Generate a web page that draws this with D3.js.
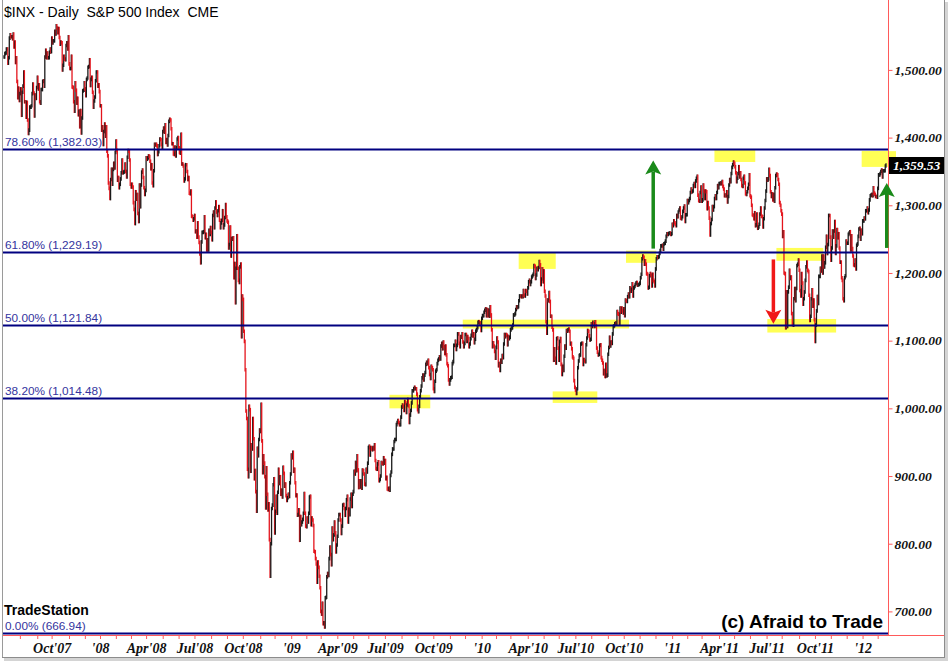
<!DOCTYPE html>
<html><head><meta charset="utf-8">
<script src="https://cdn.jsdelivr.net/npm/d3@7"></script>
<style>html,body{margin:0;padding:0;background:#fff;} svg{display:block}</style>
</head><body><svg id="c" width="950" height="664"></svg>
<script>
// ---------- DATA ----------
const startMonth = "2007-07";
// daily closes, one array per month
const dailyCloses = [
 [1519,1524,1525,1531,1531,1510,1518,1547,1552,1549,1549,1546,1553,1534,1541,1511,1518,1483,1459,1473,1455],
 [1465,1472,1433,1467,1476,1497,1453,1453,1430,1452,1426,1406,1411,1445,1445,1447,1465,1479,1466,1432,1463,1458,1474],
 [1489,1472,1478,1453,1451,1471,1471,1483,1484,1476,1519,1529,1518,1525,1518,1518,1526,1531,1527],
 [1547,1540,1543,1543,1557,1553,1565,1562,1555,1561,1548,1538,1541,1540,1500,1507,1520,1516,1515,1536,1540,1531,1549],
 [1509,1502,1502,1520,1475,1474,1453,1439,1481,1470,1451,1458,1434,1439,1416,1440,1407,1429,1469,1470,1481],
 [1472,1462,1486,1488,1504,1505,1515,1477,1486,1489,1467,1445,1454,1460,1484,1497,1497,1476,1478,1468],
 [1447,1447,1411,1416,1390,1409,1420,1402,1416,1380,1373,1333,1325,1310,1338,1353,1331,1353,1362,1355,1378],
 [1395,1381,1337,1341,1326,1331,1339,1348,1367,1348,1349,1350,1361,1350,1342,1371,1381,1380,1367,1331],
 [1327,1331,1327,1304,1294,1273,1320,1309,1316,1288,1276,1330,1298,1330,1349,1352,1341,1326,1316,1322],
 [1370,1368,1370,1373,1372,1365,1354,1360,1333,1329,1351,1390,1389,1390,1388,1375,1379,1388,1398,1397,1390,1386],
 [1409,1414,1408,1419,1393,1397,1389,1403,1424,1427,1426,1413,1391,1391,1376,1375,1386,1373,1385,1398,1400],
 [1385,1378,1377,1405,1361,1361,1358,1336,1339,1360,1360,1350,1338,1341,1318,1317,1321,1284,1283,1278,1280],
 [1285,1261,1262,1253,1274,1253,1245,1228,1215,1246,1260,1260,1261,1283,1252,1257,1234,1249,1234,1263,1257,1267],
 [1260,1249,1285,1290,1267,1296,1305,1290,1285,1292,1298,1278,1267,1274,1278,1292,1267,1271,1282,1301,1283],
 [1277,1275,1237,1242,1268,1225,1251,1250,1252,1193,1214,1156,1207,1255,1207,1189,1186,1209,1213,1106,1166],
 [1161,1114,1099,1057,996,985,910,899,1003,998,907,946,940,985,955,896,908,877,848,941,930,954,968],
 [966,1006,952,905,930,919,899,853,912,873,850,859,806,752,800,852,857,887,896],
 [816,848,870,845,876,910,889,899,873,879,869,913,904,885,888,871,864,868,873,870,890,903],
 [931,927,935,907,910,890,871,872,842,843,850,805,840,828,832,836,845,874,845,826],
 [825,838,832,845,869,870,828,838,835,827,789,788,778,770,743,773,765,752,735],
 [700,696,712,682,683,677,720,721,751,756,753,778,795,784,769,823,806,813,832,816,788,798],
 [811,835,843,843,835,815,826,857,858,852,842,852,865,870,832,851,843,866,873,855,873],
 [877,907,903,920,908,930,909,883,893,884,893,882,909,908,903,888,887,910,906,919],
 [942,944,931,942,940,939,942,940,946,923,911,910,918,921,893,895,900,920,919,918,927,919],
 [923,896,898,881,880,882,879,901,906,932,940,940,951,954,954,976,979,982,979,976,976,987],
 [1002,1005,1003,997,1010,1008,994,1005,1013,1004,979,990,997,1008,1026,1026,1029,1031,1029,1029,1021],
 [998,995,1003,1017,1026,1033,1045,1049,1042,1049,1053,1065,1068,1066,1071,1060,1050,1044,1062,1060,1057],
 [1029,1025,1040,1055,1057,1066,1071,1073,1076,1073,1092,1096,1088,1098,1091,1081,1092,1079,1066,1063,1042,1036],
 [1042,1045,1046,1066,1069,1093,1093,1099,1087,1093,1110,1110,1096,1091,1106,1105,1110,1098,1091,1096],
 [1109,1109,1099,1106,1103,1091,1095,1103,1108,1114,1107,1110,1097,1102,1114,1116,1119,1127,1128,1126,1126,1115],
 [1133,1137,1137,1142,1145,1147,1137,1146,1137,1145,1136,1150,1138,1116,1091,1097,1092,1084,1074],
 [1090,1104,1098,1063,1066,1056,1071,1068,1078,1075,1095,1109,1106,1109,1108,1094,1106,1103,1105],
 [1116,1118,1119,1123,1138,1138,1140,1146,1150,1149,1150,1159,1166,1166,1165,1166,1165,1174,1167,1166,1174,1173,1169],
 [1178,1187,1189,1183,1187,1194,1196,1198,1211,1210,1192,1197,1207,1205,1208,1217,1212,1183,1191,1206,1187],
 [1203,1173,1166,1128,1111,1160,1159,1171,1158,1136,1136,1120,1116,1071,1088,1074,1067,1103,1104,1089],
 [1071,1099,1103,1065,1050,1062,1056,1077,1092,1089,1115,1114,1116,1117,1114,1095,1096,1088,1076,1074,1041,1031],
 [1027,1022,1029,1060,1070,1078,1079,1095,1096,1096,1065,1072,1070,1069,1094,1104,1115,1114,1107,1101,1102],
 [1125,1121,1127,1125,1121,1128,1122,1089,1083,1079,1080,1093,1094,1075,1071,1067,1051,1056,1047,1065,1048,1049],
 [1080,1090,1105,1092,1098,1096,1110,1121,1122,1125,1126,1125,1143,1140,1139,1125,1148,1142,1148,1144,1141],
 [1147,1137,1160,1159,1158,1165,1169,1165,1178,1173,1176,1184,1166,1178,1180,1183,1185,1186,1182,1183,1183],
 [1185,1193,1198,1221,1225,1223,1213,1218,1213,1199,1198,1178,1179,1196,1199,1197,1181,1198,1189,1187,1181],
 [1206,1221,1224,1223,1224,1229,1233,1240,1240,1241,1235,1243,1244,1247,1254,1258,1257,1258,1259,1259,1257,1258],
 [1272,1270,1277,1274,1272,1270,1285,1283,1290,1293,1296,1281,1280,1283,1291,1296,1299,1276,1286,1286],
 [1307,1304,1307,1310,1319,1324,1320,1321,1329,1332,1328,1336,1340,1343,1315,1307,1306,1319,1327],
 [1306,1308,1330,1321,1310,1321,1320,1295,1304,1296,1281,1256,1273,1279,1298,1293,1298,1310,1314,1310,1319,1329,1326],
 [1332,1332,1333,1332,1335,1328,1324,1314,1315,1314,1320,1305,1313,1330,1338,1335,1347,1356,1360,1364],
 [1362,1357,1348,1335,1340,1347,1357,1342,1348,1338,1329,1328,1340,1343,1333,1317,1316,1320,1325,1331,1345],
 [1314,1312,1300,1286,1285,1280,1289,1270,1271,1287,1266,1268,1272,1287,1296,1284,1283,1268,1280,1296,1307,1321],
 [1339,1337,1339,1353,1344,1320,1313,1317,1308,1316,1306,1326,1344,1346,1345,1338,1331,1304,1300,1292],
 [1287,1254,1261,1200,1199,1119,1172,1121,1172,1179,1204,1192,1194,1140,1124,1123,1162,1177,1159,1177,1211,1213,1219],
 [1204,1174,1166,1199,1185,1154,1162,1172,1189,1209,1216,1204,1202,1167,1130,1136,1162,1175,1151,1160,1131],
 [1099,1123,1144,1165,1155,1195,1195,1207,1203,1225,1200,1225,1209,1215,1238,1254,1229,1242,1285,1285,1253],
 [1219,1237,1262,1253,1262,1276,1229,1240,1264,1252,1258,1237,1216,1216,1193,1189,1162,1159,1193,1196,1247],
 [1244,1244,1257,1259,1261,1234,1255,1236,1225,1212,1211,1219,1206,1241,1243,1254,1265,1266,1250,1263,1258],
 [1277,1277,1281,1280,1292,1292,1296,1289,1293,1308,1314,1315,1316,1314,1326,1318,1316,1313,1313,1312],
 [1325,1345,1345,1347,1350,1352,1342,1351,1351,1351,1358,1359.53]
];
const lastPrice = 1359.53;
const xLabelMonths = ["2007-10","2008-01","2008-04","2008-07","2008-10","2009-01","2009-04","2009-07","2009-10","2010-01","2010-04","2010-07","2010-10","2011-01","2011-04","2011-07","2011-10","2012-01"];
const xLabels = ["Oct'07","'08","Apr'08","Jul'08","Oct'08","'09","Apr'09","Jul'09","Oct'09","'10","Apr'10","Jul'10","Oct'10","'11","Apr'11","Jul'11","Oct'11","'12"];
const yTicks = [700,800,900,1000,1100,1200,1300,1400,1500];
const fibPcts = [78.60, 61.80, 50.00, 38.20, 0.00];
const fibValues = [1382.03, 1229.19, 1121.84, 1014.48, 666.94];
// highlight boxes: [startBar, endBar, lowValue, highValue]
const boxStart = [510, 607, 681, 726, 823, 940, 1022, 1010, 1135];
const boxEnd   = [564, 827, 730, 785, 863, 994, 1084, 1101, 1179];
const boxLow   = [1000, 1118, 1206, 1008, 1215, 1364, 1218, 1112, 1357];
const boxHigh  = [1020, 1131, 1230, 1025, 1233, 1383, 1237, 1132, 1380];
// arrows: bar index, start value, tip value
const arrowBar  = [859, 1168, 1018];
const arrowFrom = [1236, 1237, 1220];
const arrowTo   = [1366, 1333, 1125];
const arrowKind = ["up", "up", "down"];

// ---------- LAYOUT ----------
const W = 950, H = 664;
const pL = 3, pR = 888, pT = 0, pB = 634;
const svg = d3.select("#c");
svg.append("rect").attr("width", W).attr("height", H).attr("fill", "#fff");

const bars = [], monthStart = {};
const m0 = d3.timeParse("%Y-%m")(startMonth);
const fmtM = d3.timeFormat("%Y-%m");
dailyCloses.forEach((arr, k) => {
  monthStart[fmtM(d3.timeMonth.offset(m0, k))] = bars.length;
  arr.forEach(v => bars.push(v));
});
const N = bars.length;
const x = d3.scaleLinear().domain([0, N - 1]).range([4, 886]);
const y = d3.scaleLinear().domain([666.6, 1603.3]).range([pB, pT]);

svg.append("clipPath").attr("id", "clip").append("rect")
  .attr("x", pL).attr("y", pT).attr("width", pR - pL).attr("height", pB - pT);

// frame
svg.append("line").attr("x1", 2.5).attr("x2", 2.5).attr("y1", 0).attr("y2", 657).attr("stroke", "#9a9a9a");
svg.append("line").attr("x1", 944.5).attr("x2", 944.5).attr("y1", 0).attr("y2", 657.5).attr("stroke", "#8c8c8c");
svg.append("rect").attr("x", 945).attr("y", 2).attr("width", 3).attr("height", 659).attr("fill", "#d4d4d4");
svg.append("line").attr("x1", 2).attr("x2", 945).attr("y1", 657.5).attr("y2", 657.5).attr("stroke", "#8c8c8c");
svg.append("rect").attr("x", 4).attr("y", 658).attr("width", 944).attr("height", 3).attr("fill", "#d4d4d4");

// highlight boxes (under bars)
const gBox = svg.append("g").attr("clip-path", "url(#clip)");
boxStart.forEach((s, i) => {
  gBox.append("rect")
    .attr("x", x(s)).attr("width", x(boxEnd[i]) - x(s))
    .attr("y", y(boxHigh[i])).attr("height", y(boxLow[i]) - y(boxHigh[i]))
    .attr("fill", "#ffff55");
});
{
  const i = boxStart.length - 1;
  svg.append("rect").attr("x", x(boxStart[i])).attr("width", 896 - x(boxStart[i]))
    .attr("y", y(boxHigh[i])).attr("height", y(boxLow[i]) - y(boxHigh[i])).attr("fill", "#ffff55");
}

// bars (previous close -> close, drawn a little longer to mimic the daily range)
const ext = 1.8;
const gBars = svg.append("g").attr("clip-path", "url(#clip)");
gBars.selectAll("line").data(bars).join("line")
  .attr("x1", (d, i) => x(i)).attr("x2", (d, i) => x(i))
  .attr("y1", (d, i) => Math.min(y(i ? bars[i - 1] : d), y(d)) - ext)
  .attr("y2", (d, i) => Math.max(y(i ? bars[i - 1] : d), y(d)) + ext)
  .attr("stroke", (d, i) => (i && d < bars[i - 1]) ? "#e4141c" : "#1a1a1a")
  .attr("stroke-width", 1.3);

// fib lines & labels
fibValues.forEach((v, i) => {
  const yy = Math.round(y(v)) - 0.5;
  svg.append("line").attr("x1", pL).attr("x2", pR).attr("y1", yy).attr("y2", yy)
    .attr("stroke", "#000080").attr("stroke-width", 2);
  svg.append("text").attr("x", 5).attr("y", yy - 4)
    .attr("font-family", "Liberation Sans, Arial, sans-serif").attr("font-size", 11.8)
    .attr("fill", "#34349e")
    .text(`${fibPcts[i].toFixed(2)}% (${d3.format(",.2f")(v)})`);
});

// axes lines
svg.append("line").attr("x1", pR + 0.5).attr("x2", pR + 0.5).attr("y1", 0).attr("y2", pB + 1)
  .attr("stroke", "#ff5a5a");
svg.append("line").attr("x1", pL).attr("x2", 944).attr("y1", pB + 1.5).attr("y2", pB + 1.5)
  .attr("stroke", "#ff5a5a");

// right axis
const yAxis = d3.axisRight(y).tickValues(yTicks).tickFormat(d3.format(",.2f")).tickSize(4).tickPadding(2);
const gy = svg.append("g").attr("transform", `translate(${pR + 0.5},0)`).call(yAxis);
gy.select(".domain").remove();
gy.selectAll(".tick line").attr("stroke", "#ff5a5a");
gy.selectAll(".tick text").attr("font-family", "Liberation Serif, Times New Roman, serif")
  .attr("font-style", "italic").attr("font-weight", "bold").attr("font-size", 13.5).attr("fill", "#111");

// bottom axis: monthly ticks, quarterly labels
const monthIdx = Object.keys(monthStart).slice(1).map(k => monthStart[k]);
const labelAt = {};
xLabelMonths.forEach((m, i) => labelAt[monthStart[m]] = xLabels[i]);
const xAxis = d3.axisBottom(x).tickValues(monthIdx).tickFormat(d => labelAt[d] || "").tickSize(4).tickPadding(4);
const gx = svg.append("g").attr("transform", `translate(0,${pB + 1})`).call(xAxis);
gx.select(".domain").remove();
gx.selectAll(".tick line").attr("stroke", "#ff5a5a");
gx.selectAll(".tick text").attr("font-family", "Liberation Serif, Times New Roman, serif")
  .attr("font-style", "italic").attr("font-weight", "bold").attr("font-size", 14).attr("fill", "#111");

// last price box
const yl = y(lastPrice);
svg.append("rect").attr("x", pR + 1).attr("y", yl - 8).attr("width", 55).attr("height", 17).attr("fill", "#000");
svg.append("text").attr("x", 893).attr("y", yl + 5)
  .attr("font-family", "Liberation Serif, Times New Roman, serif").attr("font-style", "italic")
  .attr("font-weight", "bold").attr("font-size", 13.5).attr("fill", "#fff")
  .text(d3.format(",.2f")(lastPrice));

// arrows
arrowBar.forEach((b, i) => {
  const up = arrowKind[i] === "up";
  const col = up ? "#1a8a1a" : "#f01818";
  const ax = x(b), y0 = y(arrowFrom[i]), y1 = y(arrowTo[i]);
  const s = up ? 1 : -1;
  const headLen = 14, half = 8, notch = 3;
  const baseY = y1 + s * headLen;
  svg.append("line").attr("x1", ax).attr("x2", ax).attr("y1", y0).attr("y2", baseY - s * notch)
    .attr("stroke", col).attr("stroke-width", 3.5);
  svg.append("path")
    .attr("d", `M${ax},${y1} L${ax + half},${baseY} L${ax},${baseY - s * notch} L${ax - half},${baseY} Z`)
    .attr("fill", col);
});

// texts
svg.append("text").attr("x", 4).attr("y", 16.5).attr("xml:space", "preserve").style("white-space", "pre")
  .attr("font-family", "Liberation Sans, Arial, sans-serif").attr("font-size", 14).attr("fill", "#000")
  .text("$INX - Daily  S&P 500 Index  CME");
svg.append("text").attr("x", 4).attr("y", 615)
  .attr("font-family", "Liberation Sans, Arial, sans-serif").attr("font-size", 14).attr("font-weight", "bold")
  .attr("fill", "#000").text("TradeStation");
svg.append("text").attr("x", 883).attr("y", 628).attr("text-anchor", "end")
  .attr("font-family", "Liberation Sans, Arial, sans-serif").attr("font-size", 19).attr("font-weight", "bold")
  .attr("fill", "#000").text("(c) Afraid to Trade");
</script>
</body></html>
